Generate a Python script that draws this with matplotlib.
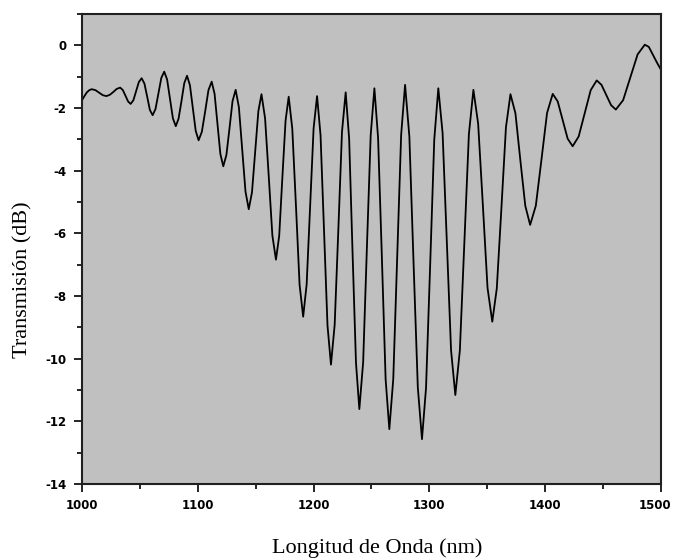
import matplotlib
matplotlib.use('Agg')
import matplotlib.pyplot as plt
import matplotlib.transforms as mtransforms
from matplotlib.ticker import MultipleLocator

plt.rcParams['axes.unicode_minus'] = False

# Wavelength (nm) and transmission (dB)
wavelength = [
    1000, 1002.1, 1004.2, 1006.3, 1008.4, 1011.6, 1014.7, 1017.9, 1021, 1024,
    1027, 1030, 1033, 1035.3, 1037.5, 1039.8, 1042, 1044.4, 1046.8, 1049.1,
    1051.5, 1053.9, 1056.3, 1058.6, 1061, 1063.5, 1066, 1068.5, 1071, 1073.5,
    1076, 1078.5, 1081, 1083.4, 1085.9, 1088.3, 1090.7, 1093.2, 1095.7, 1098.2,
    1100.7, 1103.5, 1106.4, 1109.2, 1112, 1114.5, 1117, 1119.5, 1122, 1124.7,
    1127.4, 1130, 1132.7, 1135.5, 1138.4, 1141.2, 1144, 1146.8, 1149.5, 1152.3,
    1155, 1158.1, 1161.3, 1164.4, 1167.5, 1170.3, 1173, 1175.8, 1178.5, 1181.6,
    1184.8, 1187.9, 1191, 1194, 1197, 1200, 1203, 1206, 1209, 1212,
    1215, 1218.2, 1221.4, 1224.5, 1227.7, 1230.7, 1233.6, 1236.6, 1239.5, 1242.8,
    1246, 1249.3, 1252.5, 1255.7, 1259, 1262.2, 1265.4, 1268.8, 1272.2, 1275.6,
    1279, 1282.7, 1286.3, 1290, 1293.6, 1297.1, 1300.7, 1304.2, 1307.7, 1311.4,
    1315.1, 1318.7, 1322.4, 1326.3, 1330.2, 1334.1, 1338, 1342.1, 1346.2, 1350.2,
    1354.3, 1358.2, 1362.2, 1366.1, 1370, 1374.3, 1378.5, 1382.8, 1387, 1391.9,
    1396.8, 1401.6, 1406.5, 1410.8, 1415.1, 1419.4, 1423.7, 1428.9, 1434.1, 1439.3,
    1444.5, 1448.6, 1452.8, 1456.9, 1461, 1467.3, 1473.5, 1479.8, 1486, 1489.5,
    1493, 1496.5, 1500,
]
transmission = [
    -1.75, -1.62, -1.50, -1.43, -1.40, -1.43, -1.51, -1.59, -1.62, -1.58,
    -1.49, -1.39, -1.35, -1.43, -1.61, -1.79, -1.87, -1.75, -1.46, -1.17,
    -1.05, -1.22, -1.64, -2.06, -2.23, -2.03, -1.54, -1.04, -0.84, -1.09,
    -1.71, -2.33, -2.58, -2.34, -1.78, -1.21, -0.97, -1.27, -2.00, -2.73,
    -3.03, -2.76, -2.10, -1.43, -1.16, -1.55, -2.51, -3.47, -3.86, -3.50,
    -2.64, -1.78, -1.42, -1.98, -3.33, -4.67, -5.23, -4.69, -3.40, -2.10,
    -1.56, -2.33, -4.20, -6.07, -6.84, -6.08, -4.24, -2.40, -1.64, -2.66,
    -5.15, -7.64, -8.66, -7.63, -5.14, -2.65, -1.62, -2.87, -5.91, -8.94,
    -10.19, -8.92, -5.85, -2.77, -1.50, -2.98, -6.56, -10.13, -11.61, -10.11,
    -6.49, -2.87, -1.37, -2.96, -6.81, -10.66, -12.25, -10.65, -6.76, -2.86,
    -1.26, -2.91, -6.92, -10.92, -12.57, -10.93, -6.97, -3.01, -1.37, -2.80,
    -6.27, -9.73, -11.16, -9.74, -6.29, -2.84, -1.42, -2.50, -5.12, -7.74,
    -8.82, -7.76, -5.19, -2.62, -1.56, -2.17, -3.65, -5.12, -5.73, -5.12,
    -3.64, -2.16, -1.55, -1.79, -2.39, -2.98, -3.22, -2.91, -2.17, -1.43,
    -1.12, -1.26, -1.59, -1.91, -2.05, -1.75, -1.02, -0.29, 0.02, -0.05,
    -0.30, -0.55, -0.78,
]

fig = plt.figure(figsize=(6.76, 5.60), dpi=100)
ax = fig.add_axes([0.1213, 0.1357, 0.8565, 0.8393])
ax.set_facecolor('#c0c0c0')

ax.plot(wavelength, transmission, color='black', linewidth=1.3)

ax.set_xlim(1000, 1500)
ax.set_ylim(-14, 1)
ax.xaxis.set_major_locator(MultipleLocator(100))
ax.xaxis.set_minor_locator(MultipleLocator(50))
ax.yaxis.set_major_locator(MultipleLocator(2))
ax.yaxis.set_minor_locator(MultipleLocator(1))

ax.tick_params(which='major', direction='out', length=6, width=1.2, pad=5)
ax.tick_params(which='minor', direction='out', length=3.5, width=1.2)
for lab in ax.get_xticklabels() + ax.get_yticklabels():
    lab.set_fontfamily('DejaVu Sans')
    lab.set_fontweight('bold')
    lab.set_fontsize(8.5)

# nudge the last x label so it stays inside the figure
fig.canvas.draw()
last = [t for t in ax.get_xticklabels() if t.get_text() == '1500'][0]
last.set_transform(last.get_transform() +
                   mtransforms.ScaledTranslation(-4 / 72, 0, fig.dpi_scale_trans))

for sp in ax.spines.values():
    sp.set_linewidth(1.5)
    sp.set_color('#202020')

ax.set_xlabel('Longitud de Onda (nm)', family='Liberation Serif', fontsize=16)
ax.set_ylabel('Transmisión (dB)', family='Liberation Serif', fontsize=16)
ax.xaxis.set_label_coords(0.509, -0.115)
ax.yaxis.set_label_coords(-0.086, 0.434)

fig.savefig('out.png', dpi=100)
